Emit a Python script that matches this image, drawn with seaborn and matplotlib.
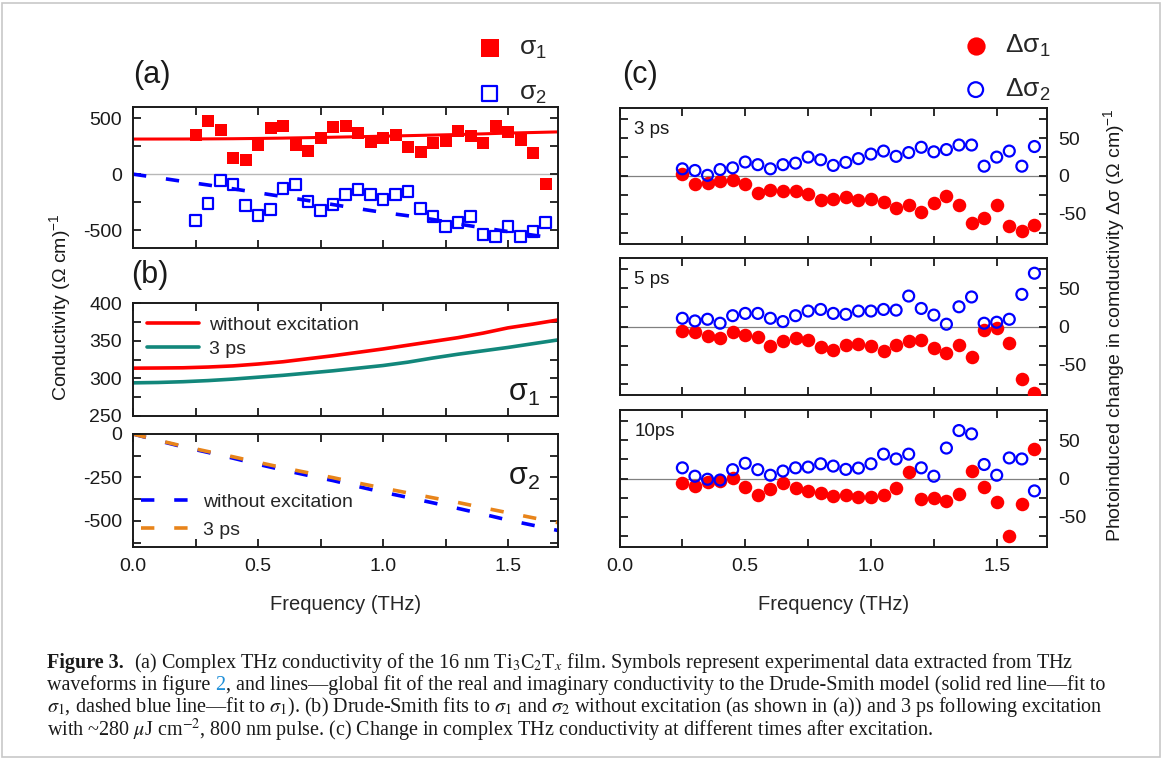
import matplotlib
matplotlib.use('Agg')
import matplotlib.pyplot as plt
import seaborn as sns
from matplotlib.ticker import MultipleLocator
from matplotlib.patches import Rectangle

# data
freq = [0.25, 0.30, 0.35, 0.40, 0.45, 0.50, 0.55, 0.60, 0.65, 0.70, 0.75, 0.80, 0.85, 0.90, 0.95,
        1.00, 1.05, 1.10, 1.15, 1.20, 1.25, 1.30, 1.35, 1.40, 1.45, 1.50, 1.55, 1.60, 1.65]

# (a) measured conductivity
sig1 = [352, 477, 396, 145, 130, 260, 413, 428, 260, 211, 327, 425, 434, 367, 283,
        327, 347, 246, 202, 275, 295, 384, 338, 275, 434, 376, 303, 188, -87]
sig2 = [-413, -266, -58, -92, -283, -367, -318, -130, -95, -246, -327, -269, -179, -136, -182,
        -225, -179, -159, -309, -379, -468, -428, -381, -540, -558, -471, -558, -512, -428]

# Drude-Smith fits
fit_freq = [0.0, 0.1, 0.2, 0.3, 0.4, 0.5, 0.6, 0.7, 0.8, 0.9, 1.0, 1.1, 1.2, 1.3, 1.4, 1.5, 1.6, 1.7]
fit1_dark = [313.5, 313.7, 314, 315, 316.5, 319, 322, 326, 330, 334.5, 339, 344, 349, 354, 360, 367, 372, 377.5]
fit1_3ps = [294, 294.5, 295.5, 297, 299, 301.5, 304, 307, 310, 313.5, 317, 321.5, 327, 332, 336.5, 341, 346, 351]
fit2_a = [0, -32, -65, -97, -131, -166, -201, -236, -272, -308, -342, -372, -405, -445, -480, -513, -545, -578]
fit2_dark = [0, -38, -74, -106, -139, -174, -207, -238, -268, -302, -335, -365, -396, -428, -461, -495, -525, -555]
fit2_3ps = [0, -36, -70, -101, -131, -163, -194, -223, -251, -282, -311, -339, -367, -394, -424, -453, -482, -510]

# (c) photoinduced change
d1_3ps = [3, -10.8, -9.5, -6.5, -5.6, -10, -22.4, -18.5, -19.4, -20, -23.7, -32, -30, -28, -31.5,
          -30, -34.5, -41.8, -38.8, -47.4, -35.8, -26.7, -38, -61.6, -55, -38, -66.8, -73, -64.7]
d2_3ps = [9.5, 7.3, 0.9, 8.6, 10.8, 18.5, 15, 9.5, 15, 17, 25, 21.5, 14, 18, 23,
          29, 33, 26, 31, 38, 32, 35, 41, 41, 13, 25, 33, 13, 39]
d1_5ps = [-6.5, -7.8, -12.9, -15, -7.8, -11.6, -14.2, -25, -18.5, -15, -17.2, -26.7, -31.5, -23.7, -22.4,
          -25.9, -32.3, -23.7, -18.5, -18.1, -28.9, -35.3, -24.6, -40, -4.3, -2.2, -21.5, -69, -87]
d2_5ps = [10.8, 7.3, 9.5, 4.3, 14.2, 17.2, 17.2, 10.8, 6.5, 14.2, 20.3, 22.4, 17.2, 16, 20.3,
          20.3, 22.4, 21.5, 40, 23.7, 15, 3, 25.9, 38.8, 4.3, 5.6, 9.5, 42.2, 70]
d1_10ps = [-6.4, -9.4, -4.3, -3, 1, -10.7, -21.4, -13.7, -6.4, -12.8, -16.3, -19.3, -23.5, -21.4, -24.8,
           -24.8, -21.4, -12.8, 8.6, -26.5, -25.7, -30, -20.5, 9.8, -10.7, -30.8, -75, -34, 38.5]
d2_10ps = [14, 3, -1, -2, 11.6, 20, 11.6, 4.3, 9.8, 14, 15, 19.3, 16.3, 12, 13.7,
           19.3, 32, 25.7, 32, 14, 3, 40, 63, 58.6, 18.4, 4.3, 27, 25.7, -16.3]

sns.set_style('ticks')
plt.rcParams['font.family'] = ['Liberation Sans', 'DejaVu Sans']
plt.rcParams['axes.unicode_minus'] = False

W, H = 1168, 764
RED, BLUE, TEAL, ORANGE = '#ff0000', '#0000ff', '#12877b', '#e8841a'


def rect(l, t, r, b):
    return [l / W, 1 - b / H, (r - l) / W, (b - t) / H]


def style(ax, ylim, ymaj, ymin, xlabels=False, right=False):
    ax.set_xlim(0, 1.7)
    ax.set_ylim(*ylim)
    ax.xaxis.set_major_locator(MultipleLocator(0.5))
    ax.xaxis.set_minor_locator(MultipleLocator(0.25))
    ax.yaxis.set_major_locator(MultipleLocator(ymaj))
    ax.yaxis.set_minor_locator(MultipleLocator(ymin))
    ax.tick_params(which='both', direction='in', top=True, right=True, left=True, bottom=True,
                   length=6, width=1.3, labelsize=14, pad=8, colors='#1a1a1a')
    ax.tick_params(labelbottom=xlabels, labelleft=not right, labelright=right)
    for sp in ax.spines.values():
        sp.set_visible(True)
        sp.set_linewidth(1.4)
        sp.set_color('#1a1a1a')
    ax.set_xlabel('')
    ax.set_ylabel('')
    if xlabels:
        ax.set_xlabel('Frequency (THz)', fontsize=14.5, labelpad=14)


fig = plt.figure(figsize=(11.68, 7.64), dpi=100)
ax_a = fig.add_axes(rect(133, 107, 558, 248))
ax_b1 = fig.add_axes(rect(133, 303, 558, 416))
ax_b2 = fig.add_axes(rect(133, 434, 558, 547))
ax_c = [fig.add_axes(rect(619.5, 108, 1047, 244)),
        fig.add_axes(rect(619.5, 258, 1047, 395)),
        fig.add_axes(rect(619.5, 410, 1047, 547))]

# (a)
ax_a.axhline(0, color='#b8b8b8', lw=1.0, zorder=0.5)
sns.lineplot(x=fit_freq, y=fit1_dark, color=RED, lw=2.2, ax=ax_a, zorder=2)
sns.lineplot(x=fit_freq, y=fit2_a, color=BLUE, lw=2.6, ax=ax_a, zorder=2)
ax_a.lines[-1].set_dashes((3.7, 5.5))
sns.scatterplot(x=freq, y=sig1, marker='s', s=80, color=RED, edgecolor=RED, linewidth=0,
                ax=ax_a, zorder=3, label='$\\mathregular{σ_1}$')
sns.scatterplot(x=freq, y=sig2, marker='s', s=62, facecolor='none', edgecolor=BLUE, linewidth=1.6,
                ax=ax_a, zorder=3, label='$\\mathregular{σ_2}$')
style(ax_a, (-660, 600), 500, 250)
h, l = ax_a.get_legend_handles_labels()
ax_a.legend(h, l, loc='upper left', bbox_to_anchor=(462 / W, 1 - 23 / H), bbox_transform=fig.transFigure,
            frameon=False, fontsize=19, markerscale=1.4, handletextpad=0.55, labelspacing=0.75,
            borderpad=0, handlelength=1.1)
fig.text(152 / W, 1 - 75 / H, '(a)', fontsize=22, ha='center', va='center', color='#1a1a1a')

# (b) real part
sns.lineplot(x=fit_freq, y=fit1_dark, color=RED, lw=2.6, ax=ax_b1, label='without excitation')
sns.lineplot(x=fit_freq, y=fit1_3ps, color=TEAL, lw=2.6, ax=ax_b1, label='3 ps')
style(ax_b1, (250, 400), 50, 25)
ax_b1.legend(loc='upper left', frameon=False, fontsize=14, handlelength=2.7, handletextpad=0.5,
             labelspacing=0.3, borderpad=0.4, borderaxespad=0.3)
ax_b1.text(0.92, 0.2, '$\\mathregular{σ_1}$', transform=ax_b1.transAxes, fontsize=22,
           ha='center', va='center', color='#1a1a1a')
fig.text(150 / W, 1 - 275 / H, '(b)', fontsize=22, ha='center', va='center', color='#1a1a1a')

# (b) imaginary part
sns.lineplot(x=fit_freq, y=fit2_dark, color=BLUE, lw=2.6, ax=ax_b2, label='without excitation')
ax_b2.lines[-1].set_dashes((3.7, 5.5))
sns.lineplot(x=fit_freq, y=fit2_3ps, color=ORANGE, lw=2.6, ax=ax_b2, label='3 ps')
ax_b2.lines[-1].set_dashes((3.7, 5.5))
style(ax_b2, (-650, 0), 250, 125, xlabels=True)
ax_b2.legend(loc='lower left', frameon=False, fontsize=14, handlelength=2.7, handletextpad=0.5,
             labelspacing=0.55, borderpad=0.3, borderaxespad=0.1)
ax_b2.text(0.92, 0.62, '$\\mathregular{σ_2}$', transform=ax_b2.transAxes, fontsize=22,
           ha='center', va='center', color='#1a1a1a')

# (c)
panels = [('3 ps', d1_3ps, d2_3ps), ('5 ps', d1_5ps, d2_5ps), ('10ps', d1_10ps, d2_10ps)]
for i, (ax, (tag, d1, d2)) in enumerate(zip(ax_c, panels)):
    ax.axhline(0, color='#808080', lw=0.9, zorder=0.5)
    sns.scatterplot(x=freq, y=d1, marker='o', s=95, color=RED, edgecolor=RED, linewidth=0,
                    ax=ax, zorder=3, label='$\\mathregular{Δσ_1}$')
    sns.scatterplot(x=freq, y=d2, marker='o', s=62, facecolor='none', edgecolor=BLUE, linewidth=1.6,
                    ax=ax, zorder=3, label='$\\mathregular{Δσ_2}$')
    style(ax, (-90, 90), 50, 25, xlabels=(i == 2), right=True)
    ax.text(0.035, 0.84, tag, transform=ax.transAxes, fontsize=13.5, ha='left', va='center',
            color='#1a1a1a')
    if i == 0:
        h, l = ax.get_legend_handles_labels()
        ax.legend(h, l, loc='upper left', bbox_to_anchor=(948 / W, 1 - 20 / H),
                  bbox_transform=fig.transFigure, frameon=False, fontsize=19, markerscale=1.35,
                  handletextpad=0.55, labelspacing=0.65, borderpad=0, handlelength=1.1)
    else:
        ax.get_legend().remove()
fig.text(640 / W, 1 - 75 / H, '(c)', fontsize=22, ha='center', va='center', color='#1a1a1a')

fig.text(60 / W, 1 - 307 / H, 'Conductivity (Ω cm)$\\mathregular{^{-1}}$', rotation=90,
         fontsize=14, ha='center', va='center', color='#1a1a1a')
fig.text(1114 / W, 1 - 325 / H, 'Photoinduced change in comductivity Δσ (Ω cm)$\\mathregular{^{-1}}$',
         rotation=90, fontsize=14, ha='center', va='center', color='#1a1a1a')

# caption
renderer = fig.canvas.get_renderer()
cap = dict(fontsize=14.5, family='Liberation Serif', math_fontfamily='stix', va='center', color='#1a1a1a')
lines = [
    (663, [('Figure 3.', dict(weight='bold')),
           ('  (a) Complex THz conductivity of the 16 nm Ti$_3$C$_2$T$_x$ film. Symbols represent '
            'experimental data extracted from THz', {})]),
    (685, [('waveforms in figure ', {}), ('2', dict(color='#1f8fd8')),
           (', and lines—global fit of the real and imaginary conductivity to the Drude-Smith model '
            '(solid red line—fit to', {})]),
    (707, [('$\\sigma_1$, dashed blue line—fit to $\\sigma_1$). (b) Drude-Smith fits to $\\sigma_1$ and '
            '$\\sigma_2$ without excitation (as shown in (a)) and 3 ps following excitation', {})]),
    (730, [('with ~280 $\\mu$J cm$^{-2}$, 800 nm pulse. (c) Change in complex THz conductivity at '
            'different times after excitation.', {})]),
]
for y, parts in lines:
    x = 47
    for s, extra in parts:
        kw = dict(cap)
        kw.update(extra)
        t = fig.text(x / W, 1 - y / H, s, **kw)
        x += t.get_window_extent(renderer=renderer).width

fig.add_artist(Rectangle((2 / W, 1 - 757 / H), 1158 / W, 754 / H, transform=fig.transFigure,
                         fill=False, edgecolor='#c8c8c8', lw=1.2))

fig.savefig('out.png', dpi=100)
